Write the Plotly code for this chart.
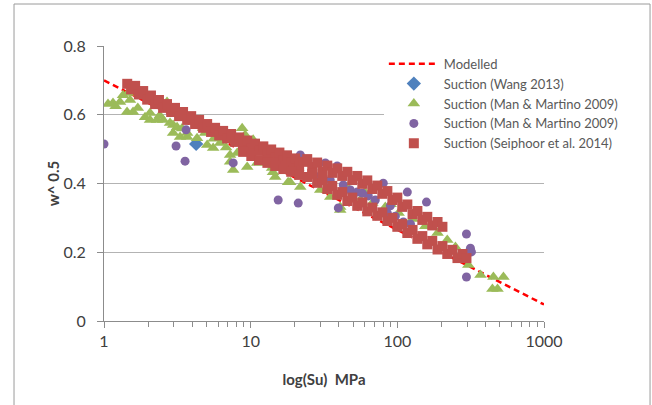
import plotly.graph_objects as go

# ---- data ----
model_x = [1, 1000]
model_y = [0.70, 0.048]

wang_x = [4.25]
wang_y = [0.515]

man_tri_x = [1.065, 1.152, 1.286, 1.348, 1.458, 1.504, 1.436, 1.578, 1.905, 2.06, 2.06, 2.30, 2.53, 2.69,
             2.82, 2.96, 3.15, 2.96, 3.30, 3.69, 3.86, 3.69, 4.31, 4.52, 4.74, 4.31, 5.29, 4.89, 5.05, 5.55,
             6.19, 7.24, 7.60, 8.09, 8.75, 9.17, 10.4, 7.24, 9.47, 11.1, 14.0, 14.2, 14.7, 18.0, 18.6, 21.8,
             29.8, 34.9, 40.8, 45.6, 40.8, 55.9, 67.5, 82.8, 102, 127, 155, 188, 219, 249, 282, 305, 369,
             452, 529, 445, 482, 11.6, 15.9, 27.0, 60.0, 90.0, 1.20, 1.70, 2.40, 3.40, 5.60, 6.80]
man_tri_y = [0.631, 0.634, 0.637, 0.657, 0.663, 0.643, 0.608, 0.608, 0.593, 0.605, 0.585, 0.585, 0.585, 0.637,
             0.576, 0.570, 0.564, 0.547, 0.535, 0.547, 0.593, 0.535, 0.576, 0.585, 0.561, 0.532, 0.556, 0.547,
             0.512, 0.503, 0.518, 0.463, 0.439, 0.489, 0.561, 0.541, 0.527, 0.483, 0.448, 0.460, 0.445, 0.433,
             0.419, 0.404, 0.404, 0.390, 0.381, 0.361, 0.332, 0.390, 0.323, 0.352, 0.343, 0.332, 0.314, 0.297,
             0.276, 0.256, 0.236, 0.215, 0.192, 0.163, 0.134, 0.128, 0.128, 0.093, 0.093, 0.497, 0.468, 0.430,
             0.375, 0.340, 0.625, 0.620, 0.598, 0.560, 0.530, 0.505]

man_circ_x = [1.0, 3.10, 3.57, 3.63, 7.60, 15.4, 21.1, 21.8, 32.3, 38.9, 39.6, 42.8, 47.8, 53.3, 57.7, 63.4,
              80.2, 117, 158, 85.5, 96.9, 110, 123, 296, 315, 320, 296, 29.8, 34.9, 70.8, 89.6, 49.3]
man_circ_y = [0.515, 0.509, 0.465, 0.556, 0.460, 0.352, 0.343, 0.483, 0.460, 0.451, 0.329, 0.396, 0.381,
              0.375, 0.372, 0.364, 0.401, 0.375, 0.346, 0.314, 0.305, 0.288, 0.282, 0.253, 0.212, 0.201,
              0.128, 0.422, 0.410, 0.352, 0.335, 0.367]

seip_x = [1.44, 1.53, 1.63, 1.73, 1.85, 1.97, 2.09, 2.23, 2.37, 2.53, 2.69, 2.87, 3.05, 3.25, 3.46, 3.69,
          3.93, 4.18, 4.45, 4.74, 5.05, 5.37, 5.72, 6.10, 6.49, 6.91, 7.36, 7.84, 8.35, 8.89, 9.47, 10.1,
          10.7, 11.4, 12.2, 13.0, 13.8, 14.7, 15.7, 16.7, 17.7, 18.9, 20.1, 21.4, 22.8,
          8.89, 10.1, 11.4, 13.0, 14.7, 16.7, 18.9, 21.4,
          24.3, 26.3, 28.4, 30.8, 33.3, 36.0, 38.9, 42.1, 45.6, 49.3, 53.3, 57.7, 62.4, 67.5, 73.0, 79.0,
          85.5, 92.5, 100, 108, 117, 127, 137, 148, 160, 173, 188, 203,
          24.3, 26.3, 28.4, 30.8, 33.3, 36.0, 38.9, 42.1, 45.6, 49.3, 53.3, 57.7, 62.4, 67.5, 73.0, 79.0,
          85.5, 92.5, 100, 108, 117, 127, 137, 148, 160, 173, 188, 203, 219, 237, 257, 278, 296]
seip_y = [0.690, 0.674, 0.684, 0.659, 0.669, 0.644, 0.656, 0.631, 0.643, 0.620, 0.631, 0.608, 0.620, 0.596,
          0.608, 0.585, 0.596, 0.573, 0.585, 0.562, 0.573, 0.550, 0.562, 0.540, 0.553, 0.531, 0.544, 0.521,
          0.534, 0.512, 0.525, 0.503, 0.516, 0.495, 0.508, 0.486, 0.499, 0.477, 0.490, 0.468, 0.482, 0.460,
          0.473, 0.451, 0.463,
          0.492, 0.480, 0.468, 0.460, 0.451, 0.442, 0.434, 0.425,
          0.471, 0.448, 0.461, 0.434, 0.452, 0.431, 0.444, 0.422, 0.434, 0.410, 0.422, 0.399, 0.409, 0.384,
          0.394, 0.370, 0.378, 0.352, 0.359, 0.332, 0.339, 0.311, 0.320, 0.294, 0.303, 0.278, 0.288, 0.274,
          0.419, 0.428, 0.402, 0.410, 0.384, 0.393, 0.367, 0.375, 0.349, 0.359, 0.335, 0.345, 0.319, 0.330,
          0.306, 0.316, 0.291, 0.300, 0.274, 0.282, 0.256, 0.265, 0.239, 0.247, 0.223, 0.233, 0.208, 0.218,
          0.195, 0.207, 0.183, 0.195, 0.183]

x_tick_vals = [1, 10, 100, 1000]
x_tick_text = ["1", "10", "100", "1000"]
y_tick_vals = [0, 0.2, 0.4, 0.6, 0.8]
y_tick_text = ["0", "0.2", "0.4", "0.6", "0.8"]
minor_vals = [2, 3, 4, 5, 6, 7, 8, 9, 20, 30, 40, 50, 60, 70, 80, 90, 200, 300, 400, 500, 600, 700, 800, 900]

FONT = "Lato, Liberation Sans, sans-serif"

fig = go.Figure()
fig.add_trace(go.Scatter(x=model_x, y=model_y, mode="lines", name="Modelled",
                         line=dict(color="#FF0000", width=2.5, dash="6px,4px")))
fig.add_trace(go.Scatter(x=wang_x, y=wang_y, mode="markers", name="Suction (Wang 2013)",
                         marker=dict(symbol="diamond", size=11, color="#4F81BD")))
fig.add_trace(go.Scatter(x=man_tri_x, y=man_tri_y, mode="markers", name="Suction (Man & Martino 2009)",
                         marker=dict(symbol="triangle-up", size=11, color="#9BBB59")))
fig.add_trace(go.Scatter(x=man_circ_x, y=man_circ_y, mode="markers", name="Suction (Man & Martino 2009)",
                         marker=dict(symbol="circle", size=9, color="#8064A2")))
fig.add_trace(go.Scatter(x=seip_x, y=seip_y, mode="markers", name="Suction (Seiphoor et al. 2014)",
                         marker=dict(symbol="square", size=10, color="#C0504D")))

fig.update_layout(
    width=652, height=405,
    margin=dict(l=104, r=108, t=46, b=84, autoexpand=False),
    paper_bgcolor="white", plot_bgcolor="white",
    font=dict(family=FONT, color="#404040"),
    showlegend=True,
    legend=dict(x=0.636, y=0.99, xanchor="left", yanchor="top", bgcolor="white",
                font=dict(family=FONT, size=13, color="#595959"), itemwidth=50,
                borderwidth=0, tracegroupgap=0),
    xaxis=dict(type="log", range=[0, 3], tickvals=x_tick_vals, ticktext=x_tick_text,
               showgrid=False, showline=True, linecolor="#8c8c8c", linewidth=1,
               ticks="outside", ticklen=6, tickcolor="#8c8c8c",
               minor=dict(tickvals=minor_vals, ticks="outside", ticklen=5, tickcolor="#8c8c8c", showgrid=False),
               tickfont=dict(size=16, color="#404040"), ticklabelstandoff=0,
               title=dict(text="<b>log(Su)  MPa</b>", font=dict(size=15, color="#404040"), standoff=25),
               zeroline=False),
    yaxis=dict(range=[0, 0.8], tickvals=y_tick_vals, ticktext=y_tick_text,
               showgrid=True, gridcolor="#b3b3b3", gridwidth=1,
               showline=True, linecolor="#8c8c8c", linewidth=1,
               ticks="outside", ticklen=6, tickcolor="#8c8c8c",
               tickfont=dict(size=16, color="#404040"), ticklabelstandoff=8,
               title=dict(text="<b>w^ 0.5</b>", font=dict(size=15, color="#404040"), standoff=0),
               zeroline=False),
    shapes=[dict(type="rect", xref="paper", yref="paper", x0=-0.2045, x1=1.241, y0=-0.32, y1=1.1527,
                 line=dict(color="#9a9a9a", width=1), fillcolor="rgba(0,0,0,0)", layer="below")],
)

fig.write_html("out.html", config={"displayModeBar": False},
               post_script="document.body.style.margin='0px';")
